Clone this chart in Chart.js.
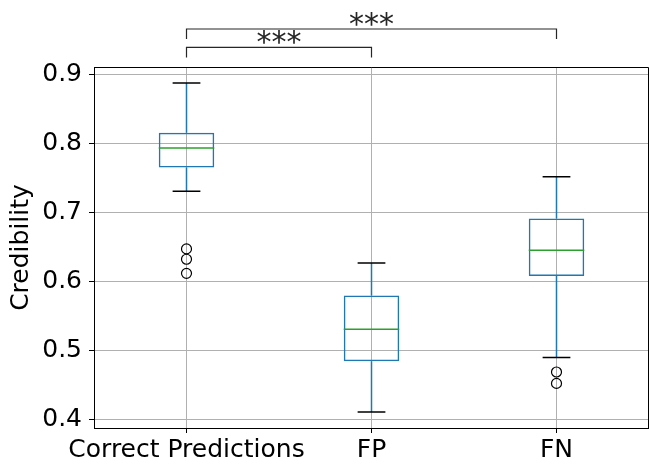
<!DOCTYPE html>
<html>
<head>
<meta charset="utf-8">
<script src="https://cdn.jsdelivr.net/npm/chart.js@4/dist/chart.umd.min.js"></script>
<style>
  html, body { margin: 0; padding: 0; background: #fff; }
  #wrap { width: 649px; height: 466px; }
</style>
</head>
<body>
<div id="wrap"><canvas id="myChart" width="649" height="466"></canvas></div>
<script>
// --- Data ---
const categories = ['Correct Predictions', 'FP', 'FN'];
const whiskerLow = [0.731, 0.411, 0.490];
const q1 = [0.7655, 0.4845, 0.6083];
const medians = [0.7936, 0.531, 0.6456];
const q3 = [0.816, 0.580, 0.6915];
const whiskerHigh = [0.888, 0.627, 0.752];
const outliers = [[0.6475, 0.6325, 0.612], [], [0.469, 0.4525]];
const yTicks = [0.4, 0.5, 0.6, 0.7, 0.8, 0.9];

// significance brackets: [from category, to category, height, label]
const brackets = [
    [0, 1, 0.9396, '***'],
    [0, 2, 0.9663, '***']
];

const FONT = "'DejaVu Sans', sans-serif";
const BLUE = '#1f77b4';
const GREEN = '#2ca02c';

// box ranges for the floating bars
const boxData = q1.map((v, i) => [v, q3[i]]);

// fliers as points
const flierPoints = [];
outliers.forEach((list, i) => {
    list.forEach(v => flierPoints.push({ x: categories[i], y: v }));
});

// whiskers, caps, medians, frame and brackets
const boxExtras = {
    id: 'boxExtras',
    afterDatasetsDraw(chart) {
        const ctx = chart.ctx;
        const xs = chart.scales.x;
        const ys = chart.scales.y;
        const catW = xs.getPixelForValue(1) - xs.getPixelForValue(0);
        const boxHalf = catW * 0.3 / 2;
        const capHalf = catW * 0.15 / 2;
        ctx.save();
        categories.forEach((c, i) => {
            const x = xs.getPixelForValue(i);
            // whiskers
            ctx.strokeStyle = BLUE;
            ctx.lineWidth = 1.5;
            ctx.beginPath();
            ctx.moveTo(x, ys.getPixelForValue(q3[i]));
            ctx.lineTo(x, ys.getPixelForValue(whiskerHigh[i]));
            ctx.moveTo(x, ys.getPixelForValue(q1[i]));
            ctx.lineTo(x, ys.getPixelForValue(whiskerLow[i]));
            ctx.stroke();
            // caps
            ctx.strokeStyle = '#000';
            ctx.beginPath();
            [whiskerHigh[i], whiskerLow[i]].forEach(v => {
                const y = ys.getPixelForValue(v);
                ctx.moveTo(x - capHalf, y);
                ctx.lineTo(x + capHalf, y);
            });
            ctx.stroke();
            // median
            ctx.strokeStyle = GREEN;
            ctx.beginPath();
            const ym = ys.getPixelForValue(medians[i]);
            ctx.moveTo(x - boxHalf, ym);
            ctx.lineTo(x + boxHalf, ym);
            ctx.stroke();
        });
        // top and right spines (right one kept on the canvas)
        const a = chart.chartArea;
        const rx = Math.min(a.right, chart.width) - 0.5;
        ctx.strokeStyle = '#000';
        ctx.lineWidth = 1;
        ctx.beginPath();
        ctx.moveTo(a.left, a.top + 0.5);
        ctx.lineTo(rx, a.top + 0.5);
        ctx.lineTo(rx, a.bottom);
        ctx.stroke();
        // brackets
        ctx.strokeStyle = '#262626';
        ctx.fillStyle = '#262626';
        ctx.lineWidth = 1.2;
        ctx.font = '30px ' + FONT;
        ctx.textAlign = 'center';
        ctx.textBaseline = 'alphabetic';
        brackets.forEach(([from, to, h, label]) => {
            const x1 = xs.getPixelForValue(from);
            const x2 = xs.getPixelForValue(to);
            const y = ys.getPixelForValue(h);
            const drop = 10;
            ctx.beginPath();
            ctx.moveTo(x1, y + drop);
            ctx.lineTo(x1, y);
            ctx.lineTo(x2, y);
            ctx.lineTo(x2, y + drop);
            ctx.stroke();
            ctx.fillText(label, (x1 + x2) / 2, y + 5);
        });
        ctx.restore();
    }
};

const ctx = document.getElementById('myChart').getContext('2d');
new Chart(ctx, {
    type: 'bar',
    data: {
        labels: categories,
        datasets: [
            {
                label: 'box',
                data: boxData,
                backgroundColor: 'rgba(0,0,0,0)',
                borderColor: BLUE,
                borderWidth: 1.5,
                borderSkipped: false,
                barPercentage: 0.3,
                categoryPercentage: 1
            },
            {
                type: 'scatter',
                label: 'fliers',
                data: flierPoints,
                pointStyle: 'circle',
                pointRadius: 5,
                pointBackgroundColor: 'rgba(0,0,0,0)',
                pointBorderColor: '#000',
                pointBorderWidth: 1.2
            }
        ]
    },
    options: {
        responsive: false,
        animation: false,
        devicePixelRatio: 1,
        layout: { autoPadding: false, padding: { top: 67, right: -2, left: 0, bottom: 0 } },
        plugins: {
            legend: { display: false },
            tooltip: { enabled: false }
        },
        scales: {
            x: {
                type: 'category',
                offset: true,
                grid: {
                    offset: false,
                    color: '#b0b0b0',
                    lineWidth: 1,
                    drawTicks: true,
                    tickLength: 5,
                    tickColor: '#000'
                },
                border: { color: '#000', width: 1 },
                ticks: {
                    color: '#000',
                    font: { family: FONT, size: 25 },
                    padding: 2,
                    maxRotation: 0,
                    autoSkip: false
                },
                afterFit(scale) { scale.height = 38; }
            },
            y: {
                min: 0.3878,
                max: 0.9112,
                grid: {
                    color: '#b0b0b0',
                    lineWidth: 1,
                    drawTicks: true,
                    tickLength: 5,
                    tickColor: '#000'
                },
                border: { color: '#000', width: 1 },
                ticks: {
                    color: '#000',
                    font: { family: FONT, size: 25 },
                    padding: 7,
                    callback: v => v.toFixed(1)
                },
                afterBuildTicks(axis) {
                    axis.ticks = yTicks.map(v => ({ value: v }));
                },
                afterFit(scale) { scale.width = 94; },
                title: {
                    display: true,
                    text: 'Credibility',
                    color: '#000',
                    font: { family: FONT, size: 25 },
                    padding: { top: 6, bottom: 0 }
                }
            }
        }
    },
    plugins: [boxExtras]
});
</script>
</body>
</html>
